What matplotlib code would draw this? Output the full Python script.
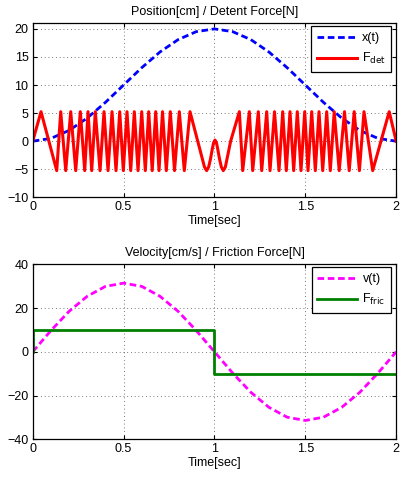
import matplotlib
matplotlib.use("Agg")
import matplotlib.pyplot as plt

plt.rcParams['font.family'] = ['Liberation Sans', 'DejaVu Sans']

# ---- data ----
t_coarse = [0.0, 0.1, 0.2, 0.3, 0.4, 0.5, 0.6, 0.7, 0.8, 0.9, 1.0,
            1.1, 1.2, 1.3, 1.4, 1.5, 1.6, 1.7, 1.8, 1.9, 2.0]
x_pos = [0.0, 0.49, 1.91, 4.12, 6.91, 10.0, 13.09, 15.88, 18.09, 19.51, 20.0,
         19.51, 18.09, 15.88, 13.09, 10.0, 6.91, 4.12, 1.91, 0.49, 0.0]
v_vel = [0.0, 9.7, 18.5, 25.4, 29.9, 31.4, 29.9, 25.4, 18.5, 9.7, 0.0,
         -9.7, -18.5, -25.4, -29.9, -31.4, -29.9, -25.4, -18.5, -9.7, 0.0]

t_det = [0.0, 0.0457, 0.1321, 0.1541, 0.1816, 0.2091, 0.2366, 0.2619, 0.2861,
         0.3043, 0.3246, 0.3444, 0.3703, 0.3923, 0.4143, 0.4363, 0.4583,
         0.4787, 0.4985, 0.5188, 0.5392, 0.5590, 0.5794, 0.5997, 0.6195,
         0.6382, 0.6575, 0.6768, 0.6949, 0.7142, 0.7351, 0.7571, 0.7802,
         0.8066, 0.8341, 0.8655, 0.945, 0.957, 0.968, 0.978, 0.988, 0.995,
         1.003, 1.011, 1.018, 1.028, 1.038, 1.0485, 1.06, 1.089, 1.137,
         1.1554, 1.1918, 1.2105, 1.2413, 1.2600, 1.2875, 1.3057, 1.3304,
         1.3552, 1.3755, 1.3953, 1.4157, 1.4360, 1.4558, 1.4762, 1.4966,
         1.5147, 1.5351, 1.5549, 1.5753, 1.5956, 1.6176, 1.6374, 1.6589,
         1.6864, 1.7155, 1.7414, 1.7689, 1.7975, 1.8228, 1.8707, 1.9615, 2.0]
f_det = [0.0, 5.25, -5.25, 5.25, -5.25, 5.25, -5.25, 5.25, -5.25,
         5.25, -5.25, 5.25, -5.25, 5.25, -5.25, 5.25, -5.25,
         5.25, -5.25, 5.25, -5.25, 5.25, -5.25, 5.25, -5.25,
         5.25, -5.25, 5.25, -5.25, 5.25, -5.25, 5.25, -5.25,
         5.25, -5.25, 5.25, -4.6, -5.25, -4.6, -3.2, -1.4, -0.3,
         0.2, -0.3, -1.4, -3.2, -4.6, -5.25, -4.6, 0.0, 5.25,
         -5.25, 5.25, -5.25, 5.25, -5.25, 5.25, -5.25, 5.25,
         -5.25, 5.25, -5.25, 5.25, -5.25, 5.25, -5.25, 5.25,
         -5.25, 5.25, -5.25, 5.25, -5.25, 5.25, -5.25, 5.25,
         -5.25, 5.25, -5.25, 5.25, -5.25, 5.25, -5.25, 5.25, 0.0]

t_fric = [0.0, 0.0, 1.0, 1.0, 2.0]
f_fric = [0.0, 10.0, 10.0, -10.0, -10.0]

xticks = [0, 0.5, 1, 1.5, 2]
xticklabels = ['0', '0.5', '1', '1.5', '2']
yticks_top = [-10, -5, 0, 5, 10, 15, 20]
yticks_bot = [-40, -20, 0, 20, 40]

FS = 9

fig = plt.figure(figsize=(4.0, 4.79), dpi=100)
ax1 = fig.add_axes([0.0818, 0.5881, 0.9087, 0.3633])
ax2 = fig.add_axes([0.0818, 0.0829, 0.9087, 0.3653])


def style(ax):
    ax.set_xlim(0, 2)
    ax.set_xticks(xticks)
    ax.set_xticklabels(xticklabels)
    ax.grid(True, color='black', linestyle=(0, (1, 3.5)), linewidth=0.6, alpha=0.7)
    ax.tick_params(direction='in', length=3, width=0.8, labelsize=FS,
                   top=True, right=True, pad=3)
    for s in ax.spines.values():
        s.set_linewidth(0.9)
    ax.set_xlabel('Time[sec]', fontsize=FS, labelpad=1)


def legend(ax):
    leg = ax.legend(loc='upper right', fontsize=FS, frameon=True, fancybox=False,
                    edgecolor='black', framealpha=1, borderaxespad=0.25,
                    bbox_to_anchor=(0.995, 1.0),
                    handlelength=3.2, handletextpad=0.4, borderpad=0.45,
                    labelspacing=0.55)
    leg.get_frame().set_linewidth(0.9)


ax1.plot(t_coarse, x_pos, color='#0000ff', linestyle=(0, (2.4, 1.3)), linewidth=2.0, label='x(t)')
ax1.plot(t_det, f_det, color='#ff0000', linewidth=2.2, label=r'F$_{\rm det}$')
ax1.set_ylim(-10, 21)
ax1.set_yticks(yticks_top)
style(ax1)
ax1.set_title('Position[cm] / Detent Force[N]', fontsize=FS, pad=6)
legend(ax1)

ax2.plot(t_coarse, v_vel, color='#ff00ff', linestyle=(0, (2.4, 1.3)), linewidth=2.0, label='v(t)')
ax2.plot(t_fric, f_fric, color='#008000', linewidth=2.0, label=r'F$_{\rm fric}$')
ax2.set_ylim(-40, 40)
ax2.set_yticks(yticks_bot)
style(ax2)
ax2.set_title('Velocity[cm/s] / Friction Force[N]', fontsize=FS, pad=6)
legend(ax2)

fig.savefig('out.png', dpi=100)
